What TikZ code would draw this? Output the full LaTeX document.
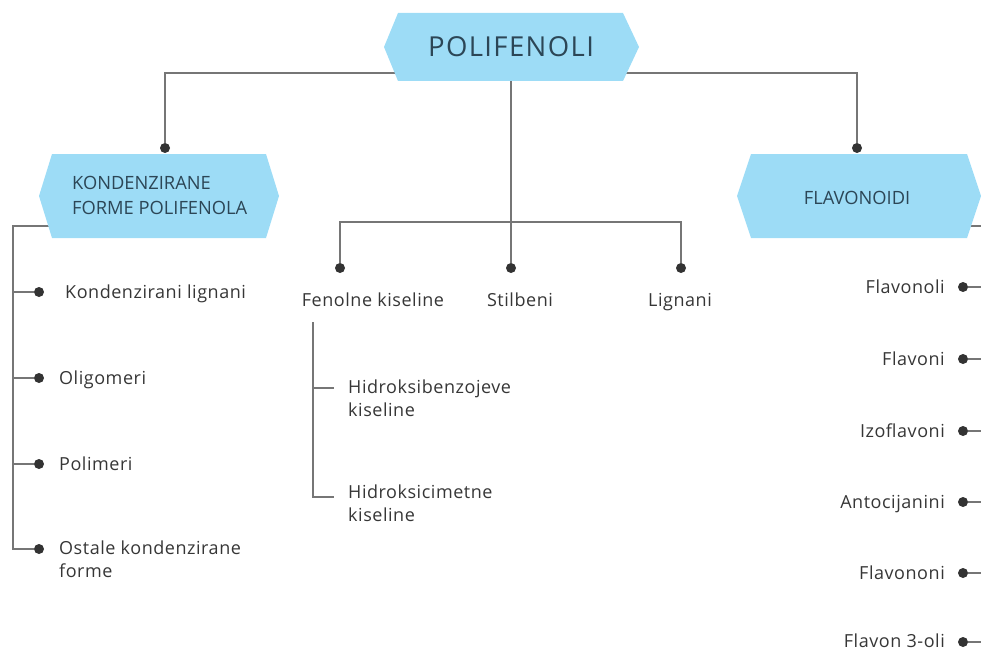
\documentclass[tikz,border=0pt]{standalone}
\usepackage{fontspec}
\setmainfont{Open Sans}
\definecolor{boxblue}{HTML}{9DDCF6}
\definecolor{linegray}{HTML}{767676}
\definecolor{dotgray}{HTML}{333333}
\definecolor{txtgray}{HTML}{363636}
\definecolor{boxtxt}{HTML}{2C4656}
\pgfdeclarelayer{bg}
\pgfsetlayers{bg,main}
\begin{document}
\begin{tikzpicture}[x=1pt,y=-1pt,
  conn/.style={draw=linegray,line width=2.4pt},
  hexfill/.style={fill=boxblue},
  dot/.style={circle,fill=dotgray,inner sep=0pt,minimum size=10pt},
  lbl/.style={text=txtgray,font=\fontsize{18}{22.5}\selectfont\addfontfeature{LetterSpace=3},inner sep=0pt,align=left},
  rlbl/.style={lbl,anchor=base east},
  boxlbl/.style={text=boxtxt,inner sep=0pt,font=\fontsize{18.3}{25}\selectfont,align=left}]
\useasboundingbox (0,0) rectangle (981,650);
\clip (0,0) rectangle (981,650);

% boxes
\fill[hexfill] (384,47) -- (398,13) -- (623,13) -- (639,47) -- (623,81) -- (398,81) -- cycle;
\node[boxlbl,font=\fontsize{27.5}{30}\selectfont\addfontfeature{LetterSpace=5}] (poli) at (511,47) {POLIFENOLI};
\fill[hexfill] (39,196) -- (52,154) -- (266,154) -- (279,196) -- (266,238) -- (52,238) -- cycle;
\node[boxlbl,anchor=base west] (kond) at (72,214) {KONDENZIRANE\\FORME POLIFENOLA};
\fill[hexfill] (737,196) -- (751,154) -- (967,154) -- (981,196) -- (967,238) -- (751,238) -- cycle;
\node[boxlbl] (flav) at (857,198) {FLAVONOIDI};

% anchor coordinates
\coordinate (pl) at (400,73);
\coordinate (pr) at (622,73);
\coordinate (pb) at (511,81);
\coordinate (cj) at (511,222);
\coordinate (kl) at (52,226);
\coordinate (kc) at (13,226);
\coordinate (fr) at (966,226);
\coordinate (fc) at (984,226);

% level-1 dots
\node[dot] (dk) at (165,148) {};
\node[dot] (df) at (857,148) {};
\node[dot] (dFen) at (340,268) {};
\node[dot] (dSti) at (511,268) {};
\node[dot] (dLig) at (681,268) {};

% middle labels
\node[lbl,anchor=base] (fen) at (373,306) {Fenolne kiseline};
\node[lbl,anchor=base] (sti) at (520,306) {Stilbeni};
\node[lbl,anchor=base] (lig) at (680,306) {Lignani};

% phenolic acid sub-tree
\coordinate (fv) at (313,322);
\coordinate (h1) at (334,388);
\coordinate (h2) at (334,497);
\node[lbl,anchor=base west] (hb) at (348,416) {Hidroksibenzojeve\\kiseline};
\node[lbl,anchor=base west] (hc) at (348,521) {Hidroksicimetne\\kiseline};

% left items
\node[dot] (k1) at (39,292) {};
\node[dot] (k2) at (39,378) {};
\node[dot] (k3) at (39,464) {};
\node[dot] (k4) at (39,549) {};
\node[lbl,anchor=base west] (tk1) at (65,298) {Kondenzirani lignani};
\node[lbl,anchor=base west] (tk2) at (59,384) {Oligomeri};
\node[lbl,anchor=base west] (tk3) at (59,470) {Polimeri};
\node[lbl,anchor=base west] (tk4) at (59,577) {Ostale kondenzirane\\forme};

% right items
\node[dot] (f1) at (963,287) {};
\node[dot] (f2) at (963,359) {};
\node[dot] (f3) at (963,431) {};
\node[dot] (f4) at (963,502) {};
\node[dot] (f5) at (963,573) {};
\node[dot] (f6) at (963,642) {};
\node[rlbl] (tf1) at (945,293) {Flavonoli};
\node[rlbl] (tf2) at (945,365) {Flavoni};
\node[rlbl] (tf3) at (945,437) {Izoflavoni};
\node[rlbl] (tf4) at (945,508) {Antocijanini};
\node[rlbl] (tf5) at (945,579) {Flavononi};
\node[rlbl,text depth=0pt] (tf6) at (945,647) {Flavon 3-oli};

\begin{pgfonlayer}{bg}
  \draw[conn] (pl) -| (dk);
  \draw[conn] (pr) -| (df);
  \draw[conn] (pb) -- (cj);
  \draw[conn] (dFen) |- (cj) -| (dLig);
  \draw[conn] (cj) -- (dSti);
  \draw[conn] (fv) |- (h2);
  \draw[conn] (fv |- h1) -- (h1);
  \draw[conn] (kl) -- (kc) |- (k4);
  \draw[conn] (kc |- k1) -- (k1);
  \draw[conn] (kc |- k2) -- (k2);
  \draw[conn] (kc |- k3) -- (k3);
  \draw[conn] (fr) -- (fc);
  \draw[conn] (f1) -- (fc |- f1);
  \draw[conn] (f2) -- (fc |- f2);
  \draw[conn] (f3) -- (fc |- f3);
  \draw[conn] (f4) -- (fc |- f4);
  \draw[conn] (f5) -- (fc |- f5);
  \draw[conn] (f6) -- (fc |- f6);
\end{pgfonlayer}
\end{tikzpicture}
\end{document}
